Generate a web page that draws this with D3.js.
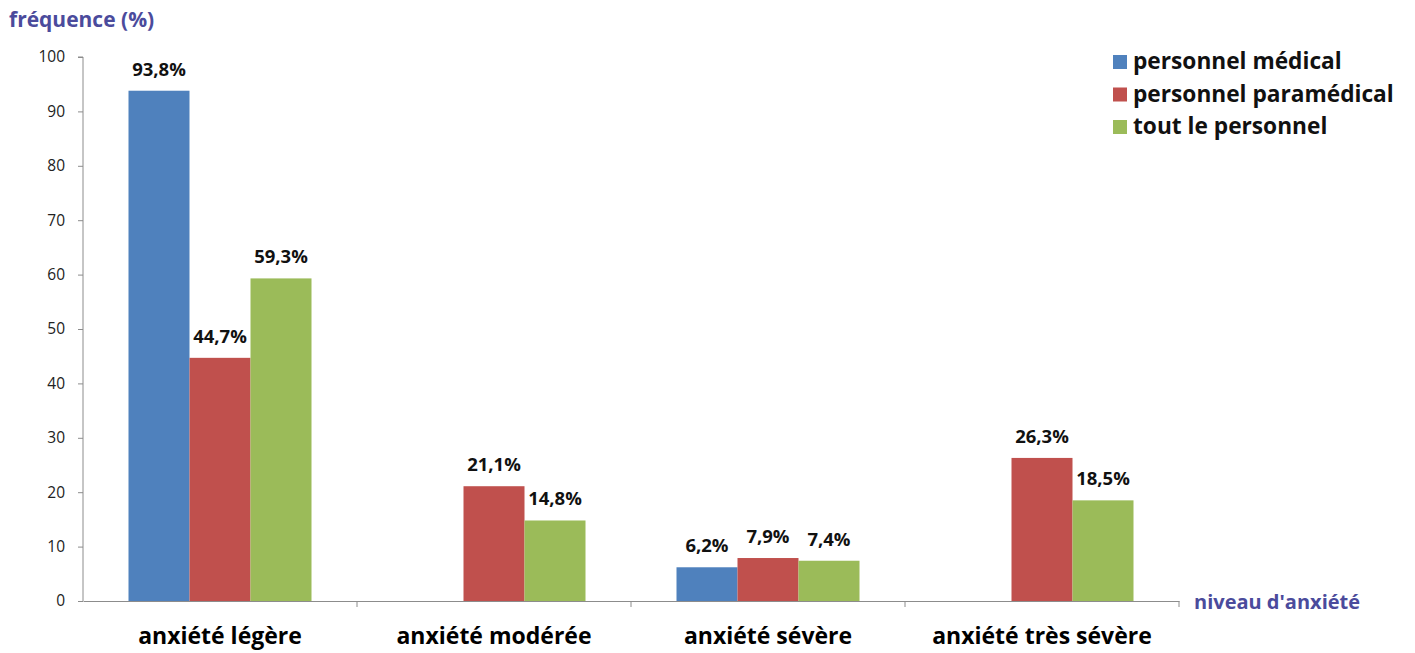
<!DOCTYPE html>
<html><head><meta charset="utf-8">
<script src="https://cdn.jsdelivr.net/npm/d3@7"></script>
<style>
html,body{margin:0;padding:0;background:#fff;}
svg{display:block;font-family:"Open Sans",sans-serif;}
</style></head><body>
<svg id="c" width="1415" height="653"></svg>
<script>
const categories = ["anxiété légère","anxiété modérée","anxiété sévère","anxiété très sévère"];
const seriesNames = ["personnel médical","personnel paramédical","tout le personnel"];
const medical = [93.8, null, 6.2, null];
const paramedical = [44.7, 21.1, 7.9, 26.3];
const total = [59.3, 14.8, 7.4, 18.5];
const valueLabels = [["93,8%",null,"6,2%",null],["44,7%","21,1%","7,9%","26,3%"],["59,3%","14,8%","7,4%","18,5%"]];
const yTicks = [0,10,20,30,40,50,60,70,80,90,100];
const colors = ["#4f81bd","#c0504d","#9bbb59"];
const series = [medical, paramedical, total];

const svg = d3.select("#c");
const x0 = 83, x1 = 1179, yTop = 57, yBot = 601;
const x = d3.scaleBand().domain(categories).range([x0,x1]).paddingInner(0).paddingOuter(0);
const y = d3.scaleLinear().domain([0,100]).range([yBot,yTop]);
const xs = d3.scaleBand().domain([0,1,2]).range([0,183]);
const groupOffset = (x.bandwidth()-183)/2;

// y axis
const yAxis = svg.append("g").attr("transform",`translate(${x0},0)`)
  .call(d3.axisLeft(y).tickValues(yTicks).tickSize(5).tickPadding(13).tickFormat(d3.format("d")));
yAxis.select(".domain").attr("stroke","#8c8c8c").attr("d",`M-5,${yTop}H0V${yBot}`);
yAxis.selectAll(".tick line").attr("stroke","#8c8c8c");
yAxis.selectAll(".tick text").attr("fill","#222").style("font-size","15.5px").style("font-family","'Open Sans',sans-serif");

// x axis
const xAxis = svg.append("g").attr("transform",`translate(0,${yBot})`)
  .call(d3.axisBottom(x).tickSize(0).tickPadding(27));
xAxis.select(".domain").attr("stroke","#8c8c8c");
xAxis.selectAll(".tick text").attr("fill","#000").style("font-size","23px").style("font-weight","bold").style("font-family","'Open Sans',sans-serif");
// category separators
const seps = categories.map(c => x(c)).concat([x1]).slice(1);
svg.append("g").selectAll("line").data(seps).join("line")
  .attr("x1",d=>d).attr("x2",d=>d).attr("y1",yBot).attr("y2",yBot+6).attr("stroke","#8c8c8c");

// bars
series.forEach((s,si)=>{
  const g = svg.append("g");
  const data = categories.map((c,i)=>({c,v:s[i],lab:valueLabels[si][i]})).filter(d=>d.v!=null);
  g.selectAll("rect").data(data).join("rect")
    .attr("x",d=>x(d.c)+groupOffset+xs(si))
    .attr("width",xs.bandwidth())
    .attr("y",d=>y(d.v)).attr("height",d=>y(0)-y(d.v))
    .attr("fill",colors[si]);
  g.selectAll("text").data(data).join("text")
    .attr("x",d=>x(d.c)+groupOffset+xs(si)+xs.bandwidth()/2)
    .attr("y",d=>y(d.v)-15)
    .attr("text-anchor","middle").attr("font-size","18.5px").attr("font-weight","bold").attr("fill","#111")
    .text(d=>d.lab);
});

// titles
svg.append("text").attr("x",9).attr("y",27).attr("font-size","21px").attr("font-weight","bold")
  .attr("fill","#4b4b9c").text("fréquence (%)");
svg.append("text").attr("x",1194).attr("y",609).attr("font-size","20px").attr("font-weight","bold")
  .attr("fill","#4b4b9c").text("niveau d'anxiété");

// legend
const lg = svg.append("g");
seriesNames.forEach((n,i)=>{
  const cy = 62 + i*32.5;
  lg.append("rect").attr("x",1113).attr("y",cy-7).attr("width",14).attr("height",14).attr("fill",colors[i]);
  lg.append("text").attr("x",1133).attr("y",cy+7).attr("font-size","22.7px").attr("font-weight","bold")
    .attr("fill","#111").text(n);
});
</script>
</body></html>
